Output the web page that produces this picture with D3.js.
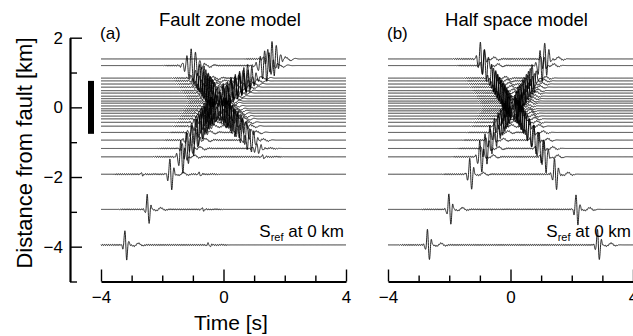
<!DOCTYPE html>
<html>
<head>
<meta charset="utf-8">
<script src="https://cdn.jsdelivr.net/npm/d3@7"></script>
<style>
  body { margin: 0; background: #fff; }
  svg text { font-family: "Liberation Sans", Arial, Helvetica, sans-serif; fill: #000; }
</style>
</head>
<body>
<svg id="chart" width="633" height="336"></svg>
<script>
// Station offsets from the fault (km), listed top to bottom
const distances = [1.39, 1.20, 0.84, 0.76, 0.67, 0.58, 0.48, 0.41, 0.32, 0.25, 0.18, 0.12, 0.04,
  -0.04, -0.10, -0.17, -0.25, -0.33, -0.43, -0.54, -0.72, -0.94, -1.18, -1.42, -1.92, -2.93, -3.95];

// Fault zone model: the phase sweeping from lower left to upper right (s, relative amplitude)
const fzMainTime = [1.62, 1.38, 0.82, 0.70, 0.56, 0.42, 0.28, 0.17, 0.03, -0.07, -0.18, -0.25, -0.31,
  -0.36, -0.41, -0.46, -0.52, -0.57, -0.64, -0.72, -0.85, -1.01, -1.18, -1.36, -1.72, -2.46, -3.19];
const fzMainAmp = [1.0, 0.9, 0.8, 0.75, 0.72, 0.72, 0.72, 0.72, 0.72, 0.72, 0.72, 0.72, 0.72,
  0.72, 0.72, 0.72, 0.72, 0.72, 0.72, 0.75, 0.8, 0.9, 0.95, 1.0, 1.0, 1.0, 1.0];
// Fault zone model: the crossing phase inside the zone and weak late arrivals outside it
const fzCrossTime = [-1.15, -1.02, -0.74, -0.68, -0.61, -0.54, -0.47, -0.41, -0.34, -0.29, -0.24, -0.18, -0.10,
  -0.02, 0.04, 0.11, 0.19, 0.27, 0.37, 0.48, 0.66, 0.88, 1.12, 1.30, -0.77, -0.67, -0.47];
const fzCrossAmp = [0, 0.95, 0.8, 0.75, 0.72, 0.72, 0.72, 0.72, 0.72, 0.72, 0.72, 0.72, 0.72,
  0.72, 0.72, 0.72, 0.72, 0.72, 0.72, 0.72, 0.75, 0.7, 0.3, 0.12, 0.12, 0.1, 0.12];
// Fault zone model: weak early arrival
const fzMinorTime = [0, 0, 0, 0, 0, 0, 0, 0, 0, 0, 0, 0, 0,
  0, 0, 0, 0, 0, 0, 0, 0, 0, 0, 0, -2.66, 0, 0];
const fzMinorAmp = [0, 0, 0, 0, 0, 0, 0, 0, 0, 0, 0, 0, 0,
  0, 0, 0, 0, 0, 0, 0, 0, 0, 0, 0, 0.1, 0, 0];
// Fault zone model: envelope half-width of each wave train (s)
const fzSpread = [0.22, 0.24, 0.25, 0.25, 0.25, 0.25, 0.25, 0.25, 0.25, 0.25, 0.25, 0.25, 0.25,
  0.25, 0.25, 0.25, 0.25, 0.25, 0.25, 0.24, 0.22, 0.19, 0.16, 0.13, 0.1, 0.08, 0.08];

// Half space model: acausal and causal arrivals (s)
const hsAcausalTime = [-0.95, -0.82, -0.58, -0.52, -0.46, -0.40, -0.33, -0.28, -0.22, -0.17, -0.12, -0.08, -0.03,
  -0.03, -0.07, -0.12, -0.17, -0.22, -0.29, -0.37, -0.49, -0.64, -0.80, -0.97, -1.30, -1.98, -2.68];
const hsCausalTime = [1.15, 1.00, 0.74, 0.68, 0.62, 0.55, 0.48, 0.43, 0.37, 0.32, 0.27, 0.23, 0.18,
  0.18, 0.22, 0.27, 0.32, 0.38, 0.45, 0.52, 0.65, 0.80, 0.97, 1.13, 1.47, 2.17, 2.87];
const hsAmp = [1.0, 0.95, 0.85, 0.8, 0.8, 0.8, 0.8, 0.8, 0.8, 0.8, 0.8, 0.8, 0.8,
  0.8, 0.8, 0.8, 0.8, 0.8, 0.8, 0.8, 0.85, 0.9, 0.95, 1.0, 1.0, 1.0, 1.0];
const hsSpread = [0.13, 0.13, 0.13, 0.13, 0.13, 0.13, 0.13, 0.13, 0.13, 0.13, 0.13, 0.13, 0.13,
  0.13, 0.13, 0.13, 0.13, 0.13, 0.13, 0.13, 0.13, 0.12, 0.12, 0.11, 0.1, 0.09, 0.09];

// Axis ticks and panel text
const timeMajor = [-4, 0, 4];
const timeMinor = [-3, -2, -1, 1, 2, 3];
const distMajor = [2, 0, -2, -4];
const distMinor = [1, -1, -3, -5];
const faultZone = [0.76, -0.76];
const panelTitles = ["Fault zone model", "Half space model"];
const panelTags = ["(a)", "(b)"];

const svg = d3.select("#chart");

const yScale = d3.scaleLinear().domain([2, -5]).range([37.7, 281.5]);
const xA = d3.scaleLinear().domain([-4, 4]).range([101, 346]);
const xB = d3.scaleLinear().domain([-4, 4]).range([388, 633]);

const gain = 0.5;       // km of offset per unit of normalised amplitude
const freq = 7;         // dominant frequency (Hz)
const dt = 0.004;
const times = d3.range(-4, 4 + dt / 2, dt);

function pulse(t, t0, amp, sigma) {
  const tau = t - t0;
  const env = Math.exp(-((tau / sigma) ** 2));
  const tail = 0.1 * Math.exp(-(((tau - sigma - 0.3) / 0.2) ** 2)) * Math.sin(2 * Math.PI * 3 * tau);
  return amp * (-env * Math.sin(2 * Math.PI * freq * tau) + tail);
}

function ripple(t, lo, hi, k) {
  if (t < lo || t > hi) return 0;
  const taper = Math.min(1, Math.min(t - lo, hi - t) / 0.15);
  return 0.035 * taper * Math.sin(2 * Math.PI * 16 * t + k);
}

function tracePath(x, d, arrivals, k) {
  const active = arrivals.filter(a => a.amp > 0);
  const lo = d3.min(active, a => a.t) - 1.0;
  const hi = d3.max(active, a => a.t) + 0.7;
  const pts = times.map(t => {
    let v = ripple(t, lo, hi, k);
    for (const a of active) v += pulse(t, a.t, a.amp, a.s);
    return [t, v];
  });
  return d3.line().x(p => x(p[0])).y(p => yScale(d + gain * p[1]))(pts);
}

// Panel (a): fault zone model
const gA = svg.append("g");
distances.forEach((d, i) => {
  const arrivals = [
    { t: fzMainTime[i], amp: fzMainAmp[i], s: fzSpread[i] },
    { t: fzCrossTime[i], amp: fzCrossAmp[i], s: Math.max(0.08, fzSpread[i] * (fzCrossAmp[i] < 0.3 ? 0.6 : 1)) },
    { t: fzMinorTime[i], amp: fzMinorAmp[i], s: 0.07 }
  ];
  gA.append("path")
    .attr("d", tracePath(xA, d, arrivals, i * 1.3))
    .attr("fill", "none").attr("stroke", "#000").attr("stroke-width", 0.85);
});

// Panel (b): half space model
const gB = svg.append("g");
distances.forEach((d, i) => {
  const arrivals = [
    { t: hsAcausalTime[i], amp: hsAmp[i], s: hsSpread[i] },
    { t: hsCausalTime[i], amp: hsAmp[i], s: hsSpread[i] }
  ];
  gB.append("path")
    .attr("d", tracePath(xB, d, arrivals, i * 0.9))
    .attr("fill", "none").attr("stroke", "#000").attr("stroke-width", 0.85);
});

// Fault zone extent
svg.append("rect")
  .attr("x", 88).attr("width", 6)
  .attr("y", yScale(faultZone[0]))
  .attr("height", yScale(faultZone[1]) - yScale(faultZone[0]))
  .attr("fill", "#000");

// Distance axis (ticks point into the plot)
const yAxisG = svg.append("g").attr("transform", "translate(70,0)");
yAxisG.call(d3.axisLeft(yScale).tickValues(distMajor).tickSizeInner(-12).tickSizeOuter(0)
  .tickPadding(7).tickFormat(d3.format("d")));
yAxisG.append("g").call(d3.axisLeft(yScale).tickValues(distMinor).tickSizeInner(-7).tickSizeOuter(0).tickFormat(""))
  .select(".domain").remove();
yAxisG.select(".domain").attr("stroke-width", 2.2);
yAxisG.selectAll(".tick line").attr("stroke-width", 1.4);
yAxisG.selectAll("text").attr("font-size", 17).attr("font-family", null);

// Time axes
[xA, xB].forEach(x => {
  const g = svg.append("g").attr("transform", `translate(0,${yScale(-5)})`);
  g.call(d3.axisBottom(x).tickValues(timeMajor).tickSizeInner(-12).tickSizeOuter(0)
    .tickPadding(9.5).tickFormat(d3.format("d")));
  g.append("g").call(d3.axisBottom(x).tickValues(timeMinor).tickSizeInner(-6).tickSizeOuter(0).tickFormat(""))
    .select(".domain").remove();
  g.select(".domain").attr("stroke-width", 2.2);
  g.selectAll(".tick line").attr("stroke-width", 1.4);
  g.selectAll("text").attr("font-size", 17).attr("font-family", null);
});

// Panel titles and tags
[[xA, 230], [xB, 516.5]].forEach(([x, cx], i) => {
  svg.append("text").attr("x", cx).attr("y", 25.5).attr("text-anchor", "middle")
    .attr("font-size", 18.5).text(panelTitles[i]);
  svg.append("text").attr("x", x(-4) - 1).attr("y", 39).attr("font-size", 17).text(panelTags[i]);
  const s = svg.append("text").attr("x", x(4) - 2).attr("y", 237).attr("text-anchor", "end").attr("font-size", 17);
  s.append("tspan").text("S");
  s.append("tspan").attr("font-size", 11).attr("dy", 4).text("ref");
  s.append("tspan").attr("dy", -4).text(" at 0 km");
});

// Axis titles
svg.append("text").attr("x", 231).attr("y", 330).attr("text-anchor", "middle")
  .attr("font-size", 21).text("Time [s]");
svg.append("text").attr("transform", "translate(32,153) rotate(-90)").attr("text-anchor", "middle")
  .attr("font-size", 22).text("Distance from fault [km]");
</script>
</body>
</html>
